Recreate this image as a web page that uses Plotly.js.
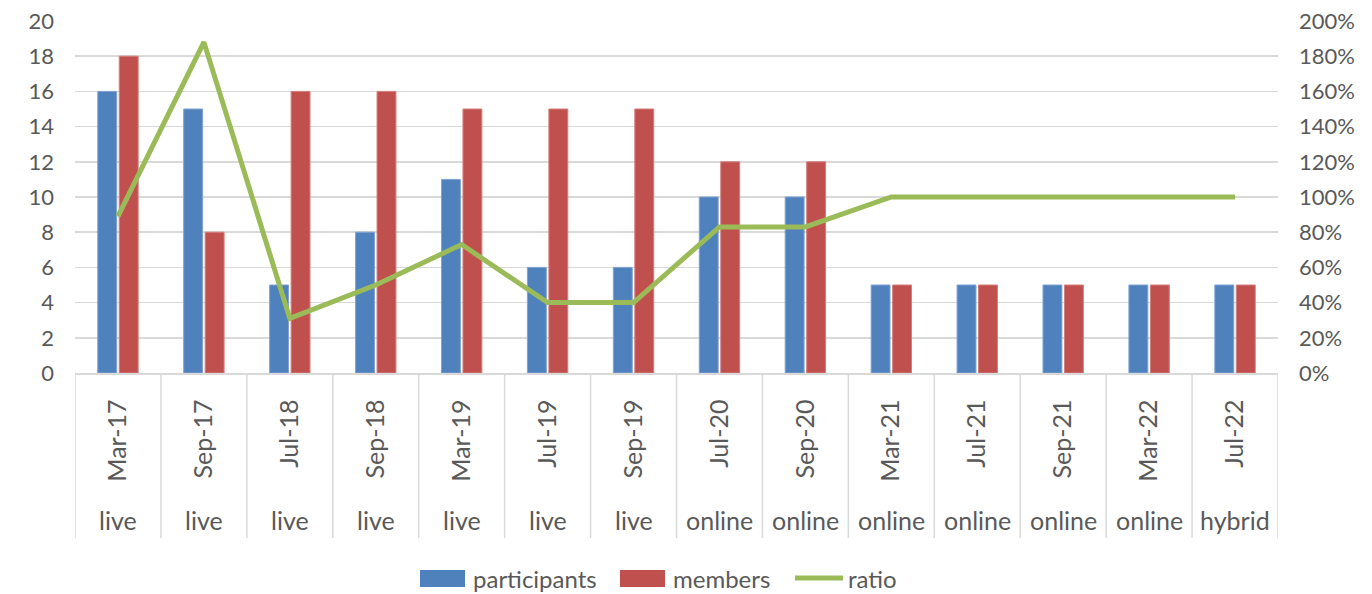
<!DOCTYPE html>
<html>
<head>
<meta charset="utf-8">
<script src="https://cdn.plot.ly/plotly-3.0.1.min.js"></script>
<style>html,body{margin:0;padding:0;background:#fff;}#chart{width:1372px;height:594px;}</style>
</head>
<body>
<div id="chart"></div>
<script>
const dates = ["Mar-17","Sep-17","Jul-18","Sep-18","Mar-19","Jul-19","Sep-19","Jul-20","Sep-20","Mar-21","Jul-21","Sep-21","Mar-22","Jul-22"];
const formats = ["live","live","live","live","live","live","live","online","online","online","online","online","online","hybrid"];
const participants = [16,15,5,8,11,6,6,10,10,5,5,5,5,5];
const members = [18,8,16,16,15,15,15,12,12,5,5,5,5,5];
const ratio = [0.89,1.88,0.31,0.50,0.73,0.40,0.40,0.83,0.83,1.00,1.00,1.00,1.00,1.00];
const seriesNames = ["participants","members","ratio"];
const seriesColors = ["#4F81BD","#C0504D","#9BBB59"];

const FONT = "Lato, 'Open Sans', sans-serif";
const TXT = "#595959";
const GRID = "#D9D9D9";

const traces = [
  {type:"bar", name:seriesNames[0], x:dates, y:participants, showlegend:false,
   marker:{color:seriesColors[0], line:{color:"#7FA3D3", width:1}}},
  {type:"bar", name:seriesNames[1], x:dates, y:members, showlegend:false,
   marker:{color:seriesColors[1], line:{color:"#D47E7B", width:1}}},
  {type:"scatter", mode:"lines", name:seriesNames[2], x:dates, y:ratio, yaxis:"y2", showlegend:false,
   line:{color:seriesColors[2], width:5}}
];

const L = 75, R = 1278, T = 21, B = 373;
const W = R - L, H = B - T;
const px = v => (v - L) / W;
const py = v => (B - v) / H;

const shapes = [];
for (let i = 0; i <= dates.length; i++) {
  shapes.push({type:"line", xref:"x", yref:"paper", x0:i-0.5, x1:i-0.5,
    y0:0, y1:py(538), line:{color:GRID, width:1.5}});
}
const annotations = formats.map((f, i) => ({
  xref:"x", yref:"paper", x:dates[i], y:py(520), text:f, showarrow:false,
  xanchor:"center", yanchor:"middle", font:{family:FONT, size:25, color:TXT}
}));

// custom legend (Excel-style swatches)
const legItems = [
  {sx0:420, sx1:465, tx:471, kind:"rect"},
  {sx0:620, sx1:665, tx:671, kind:"rect"},
  {sx0:795, sx1:843, tx:846, kind:"line"}
];
legItems.forEach((it, k) => {
  if (it.kind === "rect") {
    shapes.push({type:"rect", xref:"paper", yref:"paper", x0:px(it.sx0), x1:px(it.sx1),
      y0:py(587), y1:py(570), fillcolor:seriesColors[k], line:{width:0}});
  } else {
    shapes.push({type:"line", xref:"paper", yref:"paper", x0:px(it.sx0), x1:px(it.sx1),
      y0:py(578), y1:py(578), line:{color:seriesColors[k], width:5}});
  }
  annotations.push({xref:"paper", yref:"paper", x:px(it.tx), y:py(578), text:seriesNames[k],
    showarrow:false, xanchor:"left", yanchor:"middle", font:{family:FONT, size:24, color:TXT}});
});

const layout = {
  width:1372, height:594,
  margin:{l:L, r:1372-R, t:T, b:594-B},
  paper_bgcolor:"#fff", plot_bgcolor:"#fff",
  barmode:"group", bargap:0.5, bargroupgap:0.12,
  font:{family:FONT, color:TXT, size:20},
  showlegend:false,
  xaxis:{type:"category", tickangle:-90, tickfont:{family:FONT, size:25, color:TXT}, automargin:false,
    showgrid:false, showline:true, linecolor:GRID, linewidth:1.5, ticks:"", ticklabelstandoff:15,
    range:[-0.5, dates.length-0.5]},
  yaxis:{range:[0,20], dtick:2, showgrid:true, gridcolor:GRID, gridwidth:1.5, zeroline:false, automargin:false,
    tickfont:{family:FONT, size:22, color:TXT}, ticklabelstandoff:20, showline:false},
  yaxis2:{range:[0,2], dtick:0.2, tickformat:".0%", overlaying:"y", side:"right", showgrid:false, automargin:false,
    zeroline:false, tickfont:{family:FONT, size:22, color:TXT}, ticklabelstandoff:20},
  shapes:shapes, annotations:annotations
};

Plotly.newPlot("chart", traces, layout, {displayModeBar:false, staticPlot:true});
</script>
</body>
</html>
